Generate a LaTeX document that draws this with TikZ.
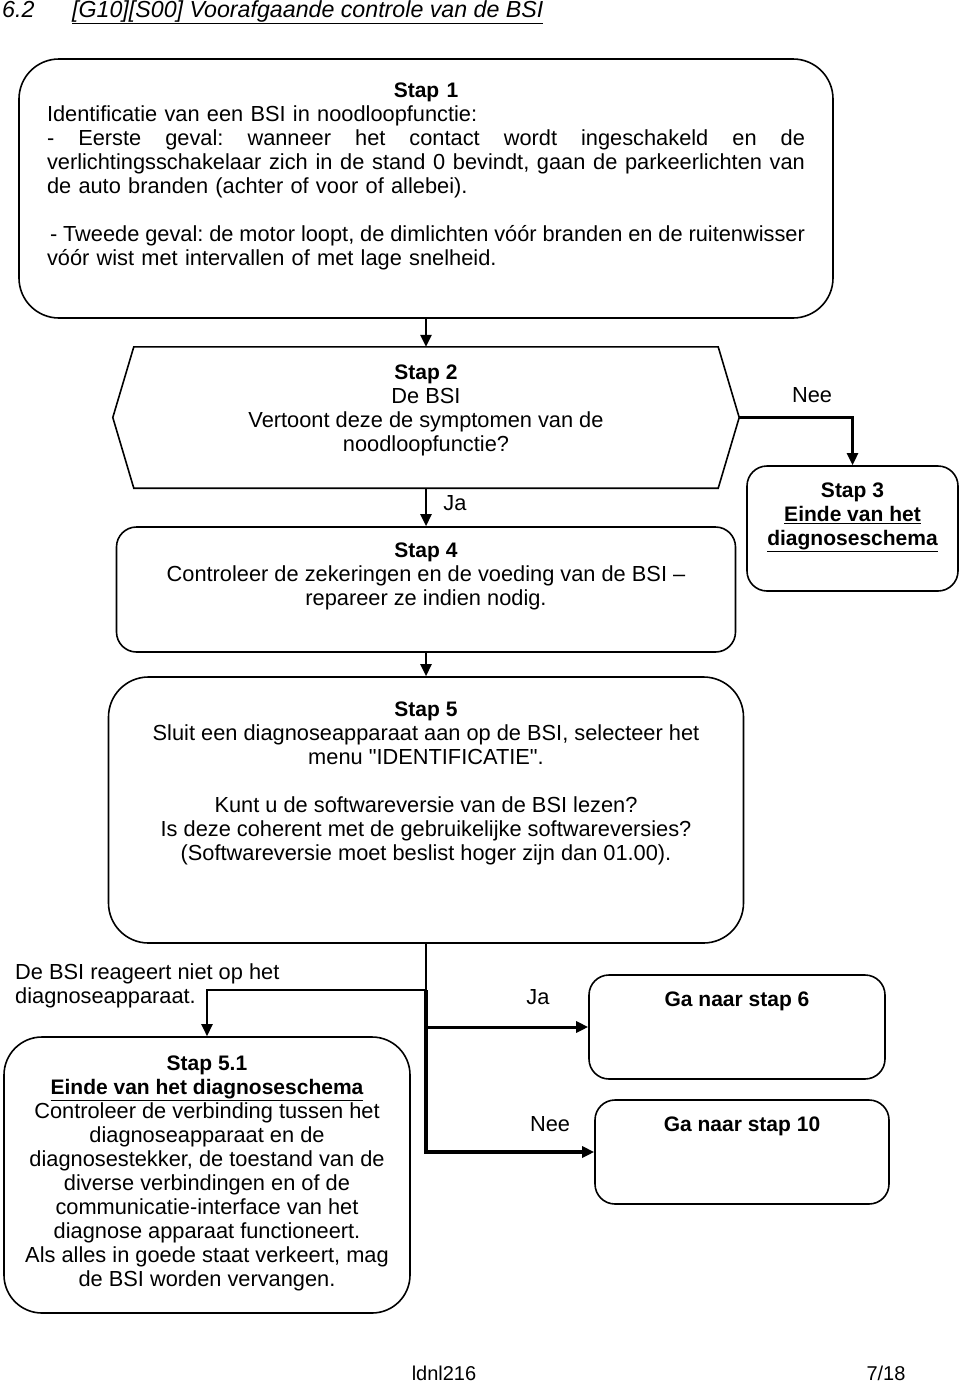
\documentclass[tikz,border=0pt]{standalone}
\usepackage{fontspec}
\setmainfont{Liberation Sans}[Ligatures=TeXOff]
\usetikzlibrary{arrows.meta,positioning}
\newcommand{\fullline}[1]{\makebox[758pt][s]{\spaceskip=0.278em plus 1fil minus 0.1em\xspaceskip=\spaceskip #1}}
\newcommand{\stephead}[1]{{\fontsize{21}{24}\selectfont\bfseries #1}}

\begin{document}
\begin{tikzpicture}[x=1pt, y=-1pt,
	stepbox/.style={draw, line width=1.6pt, rounded corners=20pt, inner sep=0pt},
	steptext/.style={align=center, inner sep=0pt, font=\fontsize{21.8}{24}\selectfont\frenchspacing},
	answer/.style={inner sep=0pt, font=\fontsize{21.8}{24}\selectfont},
	flow/.style={line width=2.5pt, -{Triangle[length=12pt, width=11pt]}}]
		\useasboundingbox (0,0) rectangle (960,1384);

		% Draw the heading
		\node (secnum) [anchor=base west, inner sep=0pt, font=\fontsize{23.2}{24}\selectfont\itshape] at (2,17) {6.2};
		\node (title) [anchor=base west, inner sep=0pt, font=\fontsize{23.2}{24}\selectfont\itshape] at (72,17) {\underline{[G10][S00] Voorafgaande controle van de BSI}};

		% Draw step 1
		\node (s1) [stepbox, rounded corners=40pt, minimum width=814pt, minimum height=259pt] at (426,188.5) {};
		\node (s1text) [steptext, align=left, text width=758pt, below=22pt of s1.north] {\strut\makebox[758pt]{\stephead{Stap 1}}\\
			Identificatie van een BSI in noodloopfunctie:\\
			\fullline{- Eerste geval: wanneer het contact wordt ingeschakeld en de}\\
			\fullline{verlichtingsschakelaar zich in de stand 0 bevindt, gaan de parkeerlichten van}\\
			de auto branden (achter of voor of allebei).\\[24pt]
			\fullline{\hspace{3pt}- Tweede geval: de motor loopt, de dimlichten vóór branden en de ruitenwisser}\\
			vóór wist met intervallen of met lage snelheid.};

		% Draw step 2 (the question)
		\node (s2) [minimum width=584pt, minimum height=141pt, inner sep=0pt] at (426,417.5) {};
		\coordinate (s2tip) at ([xshift=21pt]s2.east);
		\draw[line width=1.6pt] (s2.north west) -- (s2.north east) -- (s2tip) -- (s2.south east) -- (s2.south west) -- ([xshift=-21pt]s2.west) -- cycle;
		\node (s2text) [steptext, below=16pt of s2.north] {\strut\stephead{Stap 2}\\ De BSI\\ Vertoont deze de symptomen van de\\ noodloopfunctie?};

		% Draw step 3
		\node (s3) [stepbox, minimum width=211pt, minimum height=125pt] at (852.5,528.5) {};
		\node (s3text) [steptext, below=15pt of s3.north] {\strut\stephead{Stap 3}\\ \stephead{\underline{Einde van het}}\\ \stephead{\underline{diagnoseschema}}};

		% Draw step 4
		\node (s4) [stepbox, minimum width=619pt, minimum height=125pt] at (426,589.5) {};
		\node (s4text) [steptext, below=14pt of s4.north] {\strut\stephead{Stap 4}\\ Controleer de zekeringen en de voeding van de BSI –\\ repareer ze indien nodig.};

		% Draw step 5
		\node (s5) [stepbox, rounded corners=40pt, minimum width=635pt, minimum height=266pt] at (426,810) {};
		\node (s5text) [steptext, below=23pt of s5.north] {\strut\stephead{Stap 5}\\ Sluit een diagnoseapparaat aan op de BSI, selecteer het\\ menu "IDENTIFICATIE".\\[24pt]
			Kunt u de softwareversie van de BSI lezen?\\ Is deze coherent met de gebruikelijke softwareversies?\\ (Softwareversie moet beslist hoger zijn dan 01.00).};

		% Draw the end boxes
		\node (s6) [stepbox, minimum width=296pt, minimum height=104pt] at (737,1027) {};
		\node (s6text) [steptext, below=15pt of s6.north] {\strut\stephead{Ga naar stap 6}};
		\node (s10) [stepbox, minimum width=294pt, minimum height=104pt] at (742,1152) {};
		\node (s10text) [steptext, below=15pt of s10.north] {\strut\stephead{Ga naar stap 10}};

		% Draw step 5.1
		\node (s51) [stepbox, rounded corners=38pt, minimum width=406pt, minimum height=276pt] at (207,1175) {};
		\node (s51text) [steptext, below=17pt of s51.north] {\strut\stephead{Stap 5.1}\\ \stephead{\underline{Einde van het diagnoseschema}}\\
			Controleer de verbinding tussen het\\ diagnoseapparaat en de\\ diagnosestekker, de toestand van de\\ diverse verbindingen en of de\\
			communicatie-interface van het\\ diagnose apparaat functioneert.\\ Als alles in goede staat verkeert, mag\\ de BSI worden vervangen.};

		% Connect the steps with arrows
		\draw[flow] (s1) -- (s2);
		\draw[flow] (s2) -- (s4);
		\draw[flow] (s2tip) -| (s3);
		\draw[flow] (s4) -- (s5);
		\coordinate (split) at (426,990);
		\draw[line width=2.5pt] (s5) -- (split);
		\draw[flow] (split) -| (s51);
		\draw[flow, line width=3pt] (split |- s6.west) -- (s6.west);
		\draw[flow, line width=3.5pt] (split) |- (s10);

		% Draw the answers
		\node (nee1) [answer] at (812,395) {Nee};
		\node (ja1) [answer] at (455,503) {Ja};
		\node (ja2) [answer] at (538,997) {Ja};
		\node (nee2) [answer] at (550,1124) {Nee};
		\node (noreply) [answer, align=left, anchor=north west] at (15,962) {\strut De BSI reageert niet op het\\ diagnoseapparaat.};

		% Draw the footer
		\node (docid) [answer, font=\fontsize{20}{24}\selectfont] at (444,1373) {ldnl216};
		\node (pagenum) [answer, font=\fontsize{20}{24}\selectfont] at (886,1373) {7/18};
\end{tikzpicture}
\end{document}
